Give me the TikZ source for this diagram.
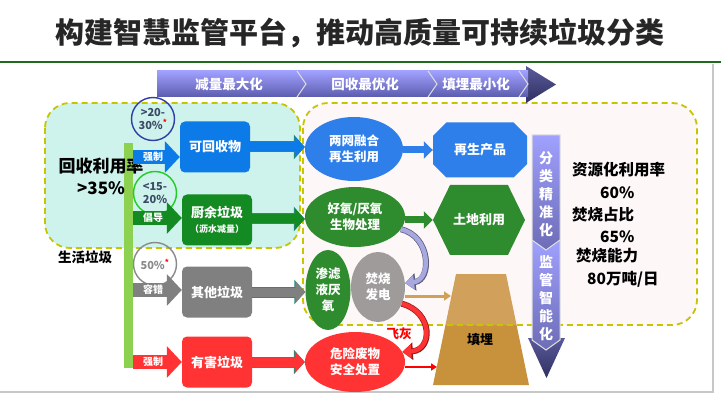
\documentclass[tikz,border=0pt]{standalone}
\usepackage{fontspec}
\setmainfont{Noto Sans CJK SC}
\usetikzlibrary{shapes.geometric,shapes.misc,shapes.symbols,arrows.meta,positioning}

\definecolor{titlegreen}{HTML}{1E6B1E}
\definecolor{panelcyan}{HTML}{CDF3EC}
\definecolor{panelpink}{HTML}{F8D8D8}
\definecolor{dashyellow}{HTML}{C8C400}
\definecolor{barlight}{HTML}{8CD150}
\definecolor{recblue}{HTML}{0C7BE8}
\definecolor{kitgreen}{HTML}{148A22}
\definecolor{othgray}{HTML}{808080}
\definecolor{hazred}{HTML}{FF3333}
\definecolor{ellblue}{HTML}{2F7FEA}
\definecolor{ellgreen}{HTML}{2E8B2E}
\definecolor{burngray}{HTML}{A09B9B}
\definecolor{tandark}{HTML}{C8923C}
\definecolor{lavlight}{HTML}{A0A0FF}
\definecolor{lavdark}{HTML}{5C5CAE}
\definecolor{lavmid}{HTML}{A8A8E0}
\definecolor{headtop}{HTML}{5A5A9A}
\definecolor{headdark}{HTML}{303062}
\definecolor{outteal}{HTML}{2A8A78}
\definecolor{circblue}{HTML}{2E3EA8}
\definecolor{circgreen}{HTML}{22CC22}
\definecolor{circgray}{HTML}{8A8A8A}
\definecolor{labeltext}{HTML}{3C4A66}

\begin{document}
\begin{tikzpicture}[x=1pt,y=-1pt,
  box/.style={rounded corners=5pt,minimum width=70pt,minimum height=51pt,text=white,font=\fontsize{13}{16}\selectfont\bfseries,align=center,inner sep=0pt},
  blob/.style={ellipse,text=white,font=\fontsize{12.5}{16}\selectfont\bfseries,align=center,inner sep=0pt},
  ring/.style={circle,draw=#1,line width=1.4pt,minimum size=43pt,inner sep=0pt,align=center,font=\fontsize{11}{12.5}\selectfont\bfseries},
  feed/.style={draw=#1,line width=14pt,-{Triangle[length=15pt,width=31pt]}},
  pass/.style={draw=#1,line width=9pt,-{Triangle[length=10pt,width=21pt]},
    preaction={draw=outteal,line width=11pt,-{Triangle[length=11pt,width=24pt]}}},
  lead/.style={draw=#1,line width=7pt,-{Triangle[length=9pt,width=17pt]}},
  curl/.style={draw=#1,line width=4.5pt,-{Triangle[length=9pt,width=14pt]},
    preaction={draw=#1!55!black,line width=6pt,-{Triangle[length=10.5pt,width=17pt]}}},
  tag/.style={text=white,font=\fontsize{10}{12}\selectfont\bfseries,inner sep=0pt},
  stat/.style={anchor=west,font=\fontsize{15.5}{18}\selectfont\bfseries,inner sep=0pt},
  panel/.style={draw=dashyellow,line width=1.8pt,dash pattern=on 6pt off 4pt,rounded corners=25pt}]
\useasboundingbox (0,0) rectangle (721,401);
\fill[white] (0,0) rectangle (721,401);
% Title
\node[font=\fontsize{29}{34}\selectfont\bfseries,text=black!85] (title) at (360,33) {构建智慧监管平台，推动高质量可持续垃圾分类};
\draw[titlegreen,line width=2.5pt] (0,62) -- (721,62);
\draw[black!22,line width=1.2pt] (713,64) -- (713,392) -- (0,392);
% Landfill body (under the pink panel)
\fill[tandark] (456,274) -- (506,274) -- (529,385) -- (433,385) -- cycle;
% Panels
\fill[panelpink,fill opacity=0.2] (303,103) [rounded corners=25pt] rectangle (697,325);
\draw[panel] (303,103) rectangle (697,325);
\draw[panel,fill=panelcyan] (45,103) rectangle (300,248);
% Stage arrow on top
\shade[top color=headtop,bottom color=headdark] (526,66) -- (556,84.5) -- (526,103) -- cycle;
\shade[top color=lavlight,bottom color=lavdark] (157,71) -- (528,71) -- (528,97) -- (157,97) -- cycle;
\foreach \x in {297,428,519}
  \draw[white!75!gray,line width=1pt] (\x,71) -- (\x+9,84) -- (\x,97);
\node[tag,font=\fontsize{13.5}{16}\selectfont\bfseries] (stage1) at (229,84) {减量最大化};
\node[tag,font=\fontsize{13.5}{16}\selectfont\bfseries] (stage2) at (365,84) {回收最优化};
\node[tag,font=\fontsize{13.5}{16}\selectfont\bfseries] (stage3) at (476,84) {填埋最小化};
% Left side
\node[fill=barlight,minimum width=9pt,minimum height=225pt,inner sep=0pt] (bar) at (128.5,255.5) {};
\node[font=\fontsize{17}{20}\selectfont\bfseries] (rate) at (101,166) {回收利用率};
\node[font=\fontsize{17}{20}\selectfont\bfseries] (rateval) at (101,188) {>35\%};
\node[font=\fontsize{13.5}{16}\selectfont\bfseries] (household) at (85,257) {生活垃圾};
\node[ring=circblue,text=labeltext] (ringA) at (153,119) {>20-\\30\%\textsuperscript{\color{red}*}};
\node[ring=circgreen,text=labeltext] (ringB) at (155,193) {<15-\\20\%};
\node[ring=circgray,text=circgray] (ringC) at (155,264) {50\%\textsuperscript{\color{red}*}};
% Sorted bins
\node[box,fill=recblue] (recyc) at (215,147) {可回收物};
\node[box,fill=kitgreen] (kitchen) at (217,220) {厨余垃圾\\[-1pt]{\fontsize{9}{11}\selectfont（沥水减量）}};
\node[box,fill=othgray] (other) at (217,292) {其他垃圾};
\node[box,fill=hazred] (hazard) at (217,362) {有害垃圾};
\coordinate (feedA) at (133,157);
\coordinate (feedB) at (133,218);
\coordinate (feedC) at (133,290);
\coordinate (feedD) at (133,362);
\draw[feed=recblue] (feedA) -- (feedA -| recyc.west);
\draw[feed=kitgreen] (feedB) -- (feedB -| kitchen.west);
\draw[feed=othgray] (feedC) -- (feedC -| other.west);
\draw[feed=hazred] (feedD) -- (feedD -| hazard.west);
\node[tag] (forceA) at (153,157) {强制};
\node[tag] (advise) at (153,218) {倡导};
\node[tag] (tolerate) at (153,290) {容错};
\node[tag] (forceB) at (153,362) {强制};
% Treatment
\node[blob,fill=ellblue,minimum width=98pt,minimum height=64pt] (twonet) at (354,149) {两网融合\\再生利用};
\node[blob,fill=ellgreen,minimum width=100pt,minimum height=60pt] (bio) at (355,217) {好氧/厌氧\\生物处理};
\node[blob,fill=ellgreen,minimum width=45pt,minimum height=80pt] (leach) at (328,290) {渗滤\\液厌\\氧};
\node[blob,fill=burngray,minimum width=54pt,minimum height=70pt] (burn) at (378,287) {焚烧\\发电};
\node[blob,fill=hazred,minimum width=100pt,minimum height=60pt] (safe) at (355,362) {危险废物\\安全处置};
\draw[pass=recblue] (recyc.east) -- (recyc.east -| twonet.west);
\draw[pass=kitgreen] (kitchen.east |- 0,219) -- (bio.west |- 0,219);
\draw[pass=othgray] (other.east) -- (other.east -| leach.west);
\draw[pass=hazred] (hazard.east) -- (hazard.east -| safe.west);
% Outputs
\node[chamfered rectangle,chamfered rectangle xsep=7pt,chamfered rectangle ysep=7pt,fill=ellblue,minimum width=94pt,minimum height=55pt,inner sep=0pt,text=white,font=\fontsize{13}{16}\selectfont\bfseries] (product) at (480,150) {再生产品};
\node[signal,signal to=east and west,signal pointer angle=128,fill=ellgreen,minimum width=92pt,minimum height=70pt,inner sep=0pt,text=white,font=\fontsize{13}{16}\selectfont\bfseries] (land) at (479,220) {土地利用};
\draw[lead=ellblue] (twonet.east |- product.west) -- (product.west);
\draw[lead=ellgreen] (bio.east |- land.west) -- (land.west);
\node[font=\fontsize{13}{16}\selectfont\bfseries] (landfill) at (480,340) {填埋};
\coordinate (fillA) at (451,296);
\coordinate (fillB) at (437,367);
\draw[curl=lavmid] (bio.-15) .. controls (431,236) and (432,280) .. (burn.8);
\draw[curl=hazred] (burn.-35) .. controls (433,312) and (433,350) .. (safe.12);
\node[text=red,font=\fontsize{12.5}{15}\selectfont\bfseries] (ash) at (399,334) {飞灰};
\draw[tandark!85!white,line width=3pt,-{Triangle[length=7pt,width=9pt]}] (burn.east |- fillA) -- (fillA);
\draw[red,line width=2pt,-{Triangle[length=6pt,width=7pt]}] (safe.east |- fillB) -- (fillB);
% Vertical arrow
\shade[top color=headtop,bottom color=headdark] (528,338) -- (565,338) -- (546.5,378) -- cycle;
\shade[top color=lavlight,bottom color=lavdark!90] (532,135) -- (560,135) -- (560,240) -- (546,250) -- (532,240) -- cycle;
\shade[top color=lavlight,bottom color=lavdark!90] (532,240) -- (546,250) -- (560,240) -- (560,340) -- (546,350) -- (532,340) -- cycle;
\draw[white!75!gray,line width=1pt] (532,135) -- (560,135) -- (560,340) -- (546,350) -- (532,340) -- cycle;
\draw[white!75!gray,line width=1pt] (532,240) -- (546,250) -- (560,240);
\node[tag,align=center,font=\fontsize{14}{18}\selectfont\bfseries] (sorting) at (546,194) {分\\类\\精\\准\\化};
\node[tag,align=center,font=\fontsize{14}{18}\selectfont\bfseries] (monitor) at (546,298) {监\\管\\智\\能\\化};
% Figures
\node[stat] (resuse) at (572,170) {资源化利用率};
\node[stat] (resval) at (600,193) {60\%};
\node[stat] (burnshare) at (572,215) {焚烧占比};
\node[stat] (burnval) at (600,237) {65\%};
\node[stat] (capacity) at (576,256) {焚烧能力};
\node[stat] (capval) at (587,279) {80万吨/日};
\end{tikzpicture}
\end{document}
